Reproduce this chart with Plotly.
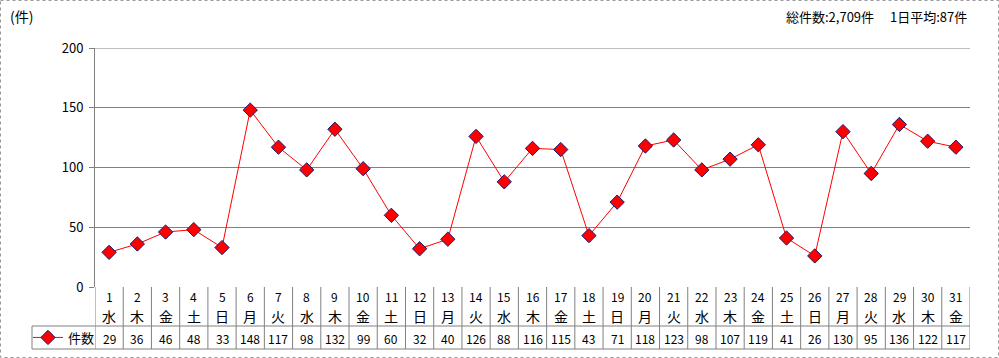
import plotly.graph_objects as go

days = list(range(1, 32))
weekdays = ["水","木","金","土","日","月","火"] * 5
weekdays = weekdays[:31]
counts = [29,36,46,48,33,148,117,98,132,99,60,32,40,126,88,116,115,43,71,118,123,98,107,119,41,26,130,95,136,122,117]
series_name = "件数"
unit_label = "(件)"
summary = "総件数:2,709件　 1日平均:87件"
y_ticks = [0, 50, 100, 150, 200]

FONT = "Noto Sans CJK JP, sans-serif"
W, H = 999, 358
L, R, T, B = 95, 970, 48, 287
PW, PH = R - L, B - T

def px(x):
    return (x - L) / PW

def py(y):
    return (B - y) / PH

xs = [i + 0.5 for i in range(len(days))]

fig = go.Figure()
fig.add_trace(go.Scatter(
    x=xs, y=counts, mode="lines+markers", name=series_name,
    line=dict(color="#ff0000", width=1),
    marker=dict(symbol="diamond", size=11, color="#ff0000",
                line=dict(color="#1a1a6e", width=1)),
    showlegend=True,
))

shapes = []
grey = "#808080"
# top gridline at 200
shapes.append(dict(type="line", xref="paper", yref="y", x0=0, x1=1, y0=y_ticks[-1], y1=y_ticks[-1], line=dict(color=grey, width=1), layer="below"))
# table horizontal lines
shapes.append(dict(type="line", xref="paper", yref="paper", x0=px(32), x1=1, y0=py(326), y1=py(326), line=dict(color=grey, width=1)))
shapes.append(dict(type="line", xref="paper", yref="paper", x0=px(32), x1=1, y0=py(349), y1=py(349), line=dict(color=grey, width=1)))
shapes.append(dict(type="line", xref="paper", yref="paper", x0=px(32), x1=px(32), y0=py(326), y1=py(349), line=dict(color=grey, width=1)))
for i in range(len(days) + 1):
    shapes.append(dict(type="line", xref="x", yref="paper", x0=i, x1=i, y0=0, y1=py(349), line=dict(color=grey, width=1)))
# outer border
shapes.append(dict(type="rect", xref="paper", yref="paper", x0=px(0.5), x1=px(998.5), y0=py(0.5), y1=py(357.5),
                   line=dict(color="#999999", width=1, dash="dot")))

annotations = []
for i, (d, w, c) in enumerate(zip(days, weekdays, counts)):
    annotations.append(dict(x=xs[i], y=py(296), xref="x", yref="paper", text=str(d), showarrow=False,
                            font=dict(size=12, color="black", family=FONT), xanchor="center", yanchor="middle"))
    annotations.append(dict(x=xs[i], y=py(316), xref="x", yref="paper", text=w, showarrow=False,
                            font=dict(size=14, color="black", family=FONT), xanchor="center", yanchor="middle"))
    annotations.append(dict(x=xs[i], y=py(338), xref="x", yref="paper", text=str(c), showarrow=False,
                            font=dict(size=12, color="black", family=FONT), xanchor="center", yanchor="middle"))
annotations.append(dict(x=px(8), y=py(16), xref="paper", yref="paper", text=unit_label, showarrow=False,
                        font=dict(size=14, color="black", family=FONT), xanchor="left", yanchor="middle"))
annotations.append(dict(x=px(969), y=py(16), xref="paper", yref="paper", text=summary, showarrow=False,
                        font=dict(size=13, color="black", family=FONT), xanchor="right", yanchor="middle"))

fig.update_layout(
    width=W, height=H,
    margin=dict(l=L, r=W - R, t=T, b=H - B, pad=0, autoexpand=False),
    paper_bgcolor="white", plot_bgcolor="white",
    showlegend=True,
    legend=dict(xref="container", yref="container", x=28 / W, y=1 - 337.5 / H,
                xanchor="left", yanchor="middle",
                bgcolor="rgba(0,0,0,0)", borderwidth=0,
                font=dict(size=13, color="black", family=FONT),
                itemwidth=30),
    xaxis=dict(range=[0, len(days)], showgrid=False, zeroline=False, showticklabels=False,
               showline=False, ticks=""),
    yaxis=dict(range=[0, 200], tickvals=y_ticks, showgrid=True, gridcolor=grey, gridwidth=1,
               zeroline=False, showline=True, linecolor=grey, linewidth=1,
               ticks="outside", ticklen=5, tickcolor=grey, ticklabelstandoff=3,
               tickfont=dict(size=13, color="black", family=FONT)),
    shapes=shapes, annotations=annotations,
)

fig.write_html("out.html")
